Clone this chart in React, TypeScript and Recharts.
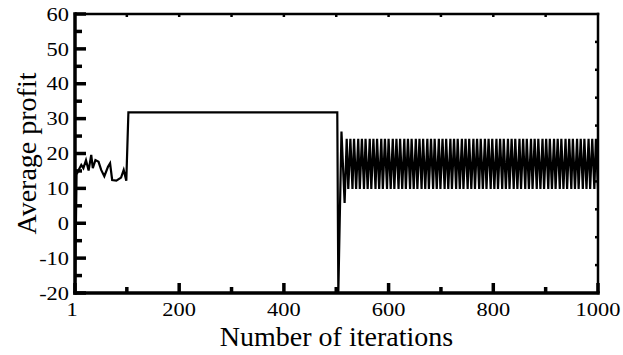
import React from 'react';
import { LineChart, Line, XAxis, YAxis, Label } from 'recharts';

// Values
const warmupIter = [1, 4, 8, 13, 17, 22, 27, 32, 35, 40, 46, 51, 57, 64, 68, 72, 80, 89, 94, 99];
const warmupProfit = [-20, 14, 15.3, 16.7, 15.8, 18.1, 15.1, 19.6, 15.8, 18.1, 17.6, 15.3, 13.5, 16.2, 17.2, 12.4, 12.2, 13.1, 15.3, 12.2];
const plateauIter = [103, 502];
const plateauProfit = [31.8, 31.8];
const crashIter = [504, 510, 516];
const crashProfit = [-19.8, 26.3, 5.8];
// alternating high / low points of the sustained cycle
const cycleIter = [
  520, 523, 527, 531, 534, 538, 542, 545, 549, 553, 556, 560, 564, 567, 571, 575, 578, 582, 586, 589,
  593, 597, 600, 604, 608, 611, 615, 619, 622, 626, 630, 633, 637, 641, 644, 648, 652, 655, 659, 663,
  666, 670, 674, 677, 681, 685, 688, 692, 696, 699, 703, 707, 710, 714, 718, 721, 725, 729, 732, 736,
  740, 743, 747, 751, 754, 758, 762, 765, 769, 773, 776, 780, 784, 787, 791, 795, 798, 802, 806, 809,
  813, 817, 820, 824, 828, 831, 835, 839, 842, 846, 850, 853, 857, 861, 864, 868, 872, 875, 879, 883,
  886, 890, 894, 897, 901, 905, 908, 912, 916, 919, 923, 927, 930, 934, 938, 941, 945, 949, 952, 956,
  960, 963, 967, 971, 974, 978, 982, 985, 989, 993, 996, 1000,
];
const cycleLevels = [24.2, 9.8];

const xTicks = [1, 100, 200, 300, 400, 500, 600, 700, 800, 900, 1000];
const xTickLabels: Record<number, string> = { 1: '1', 200: '200', 400: '400', 600: '600', 800: '800', 1000: '1000' };
const yTicks = [-20, -15, -10, -5, 0, 5, 10, 15, 20, 25, 30, 35, 40, 45, 50, 55, 60];
const yRightTicks = [-12, -4, 4, 12, 20, 28, 36, 44, 52];
const xTopTicks = [100, 200, 300, 400, 500, 600, 700, 800, 900];

const data: { iter: number; profit: number }[] = [];
warmupIter.forEach((it, i) => data.push({ iter: it, profit: warmupProfit[i] }));
plateauIter.forEach((it, i) => data.push({ iter: it, profit: plateauProfit[i] }));
crashIter.forEach((it, i) => data.push({ iter: it, profit: crashProfit[i] }));
cycleIter.forEach((it, i) => data.push({ iter: it, profit: cycleLevels[i % 2] }));

const FONT = '"Liberation Serif", "Times New Roman", serif';
const STRETCH = 1.18;

const BottomTick = (props: any) => {
  const { x, y, payload } = props;
  const v = payload.value;
  const label = xTickLabels[v];
  const major = label !== undefined;
  const tx = v === 1 ? x - 3 : x;
  const ty = y + 23;
  return (
    <g>
      <line x1={x} y1={y} x2={x} y2={y - (major ? 10 : 6)} stroke="#000" strokeWidth={3.5} />
      {major && (
        <text
          x={0}
          y={0}
          transform={`translate(${tx} ${ty}) scale(${STRETCH} 1)`}
          textAnchor="middle"
          fontFamily={FONT}
          fontSize={19}
          fill="#000"
        >
          {label}
        </text>
      )}
    </g>
  );
};

const LeftTick = (props: any) => {
  const { x, y, payload } = props;
  const v = payload.value;
  const major = v % 10 === 0;
  return (
    <g>
      <line x1={x} y1={y} x2={x + (major ? 11 : 7)} y2={y} stroke="#000" strokeWidth={3.5} />
      {major && (
        <text
          x={0}
          y={0}
          dy="0.35em"
          transform={`translate(${x - 6} ${y}) scale(${STRETCH} 1)`}
          textAnchor="end"
          fontFamily={FONT}
          fontSize={19}
          fill="#000"
        >
          {String(v)}
        </text>
      )}
    </g>
  );
};

const RightTick = (props: any) => {
  const { x, y } = props;
  return <line x1={x} y1={y} x2={x - 3} y2={y} stroke="#000" strokeWidth={2.5} />;
};

const TopTick = (props: any) => {
  const { x, y } = props;
  return <line x1={x} y1={y} x2={x} y2={y + 3} stroke="#000" strokeWidth={2.5} />;
};

const XTitle = (props: any) => {
  const vb = props.viewBox;
  return (
    <text x={vb.x + vb.width / 2} y={vb.y + 53} textAnchor="middle" fontFamily={FONT} fontSize={28} fill="#000">
      Number of iterations
    </text>
  );
};

const YTitle = (props: any) => {
  const vb = props.viewBox;
  const cx = vb.x + 36;
  const cy = vb.y + vb.height / 2;
  return (
    <text x={cx} y={cy} transform={`rotate(-90 ${cx} ${cy})`} textAnchor="middle" fontFamily={FONT} fontSize={28} fill="#000">
      Average profit
    </text>
  );
};

export default function App() {
  return (
    <div style={{ position: 'absolute', left: 0, top: 0, background: '#fff' }}>
      <LineChart width={623} height={355} data={data} margin={{ top: 13, right: 24, bottom: 0, left: 0 }}>
        <XAxis
          dataKey="iter"
          type="number"
          domain={[1, 1000]}
          ticks={xTicks}
          interval={0}
          tickSize={0}
          tickMargin={0}
          tick={<BottomTick />}
          tickLine={false}
          axisLine={{ stroke: '#000', strokeWidth: 3.5, strokeLinecap: 'square' }}
          height={62}
          allowDataOverflow
        >
          <Label content={<XTitle />} />
        </XAxis>
        <XAxis
          xAxisId="top"
          orientation="top"
          dataKey="iter"
          type="number"
          domain={[1, 1000]}
          ticks={xTopTicks}
          interval={0}
          tickSize={0}
          tickMargin={0}
          tick={<TopTick />}
          tickLine={false}
          axisLine={{ stroke: '#000', strokeWidth: 2.5, strokeLinecap: 'square' }}
          height={1}
          allowDataOverflow
        />
        <YAxis
          type="number"
          domain={[-20, 60]}
          ticks={yTicks}
          interval={0}
          tickSize={0}
          tickMargin={0}
          tick={<LeftTick />}
          tickLine={false}
          axisLine={{ stroke: '#000', strokeWidth: 3.5, strokeLinecap: 'square' }}
          width={75}
          allowDataOverflow
        >
          <Label content={<YTitle />} />
        </YAxis>
        <YAxis
          yAxisId="right"
          orientation="right"
          type="number"
          domain={[-20, 60]}
          ticks={yRightTicks}
          interval={0}
          tickSize={0}
          tickMargin={0}
          tick={<RightTick />}
          tickLine={false}
          axisLine={{ stroke: '#000', strokeWidth: 2.5, strokeLinecap: 'square' }}
          width={1}
          allowDataOverflow
        />
        <Line
          xAxisId="top"
          yAxisId="right"
          dataKey="profit"
          stroke="none"
          dot={false}
          activeDot={false}
          isAnimationActive={false}
        />
        <Line
          dataKey="profit"
          type="linear"
          stroke="#000"
          strokeWidth={2.2}
          dot={false}
          activeDot={false}
          isAnimationActive={false}
        />
      </LineChart>
    </div>
  );
}
